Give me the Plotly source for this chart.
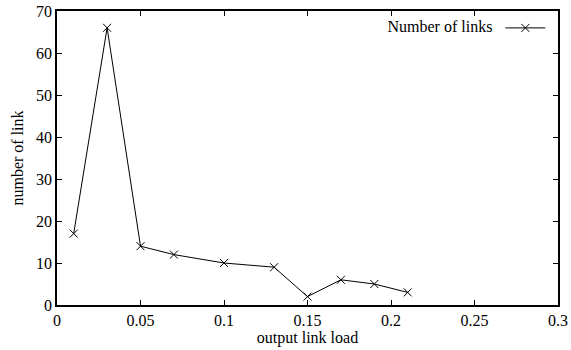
import plotly.graph_objects as go

load = [0.01, 0.03, 0.05, 0.07, 0.1, 0.13, 0.15, 0.17, 0.19, 0.21]
links = [17, 66, 14, 12, 10, 9, 2, 6, 5, 3]
x_ticks = [0, 0.05, 0.1, 0.15, 0.2, 0.25, 0.3]
x_labels = ["0", "0.05", "0.1", "0.15", "0.2", "0.25", "0.3"]
y_ticks = [0, 10, 20, 30, 40, 50, 60, 70]

font = dict(family="'Liberation Serif', 'Times New Roman', 'DejaVu Serif', serif", size=16, color="black")

fig = go.Figure()
fig.add_trace(go.Scatter(
    x=load, y=links, mode="lines+markers", name="",
    line=dict(color="black", width=1),
    marker=dict(symbol="x-thin", size=8, color="black", line=dict(width=1, color="black")),
))

axis_common = dict(
    showline=True, linecolor="black", linewidth=1.5, mirror="allticks",
    ticks="inside", ticklen=5, tickcolor="black", tickwidth=1,
    showgrid=False, zeroline=False, tickfont=font, automargin=False,
)
fig.update_xaxes(range=[0, 0.3], tickvals=x_ticks, ticktext=x_labels,
                 title=dict(text="output link load", font=font, standoff=2), **axis_common)
fig.update_yaxes(range=[0, 70], tickvals=y_ticks,
                 title=dict(text="number of link", font=font, standoff=8), **axis_common)

fig.update_layout(
    width=571, height=350,
    margin=dict(l=57, r=13, t=11, b=45),
    paper_bgcolor="white", plot_bgcolor="white",
    font=font,
    showlegend=True,
    legend=dict(
        x=0.995, y=1.0, xanchor="right", yanchor="top",
        bgcolor="rgba(0,0,0,0)", borderwidth=0,
        title=dict(text="Number of links", side="left", font=font),
        font=font, itemwidth=40,
    ),
)

fig.write_html("out.html")
